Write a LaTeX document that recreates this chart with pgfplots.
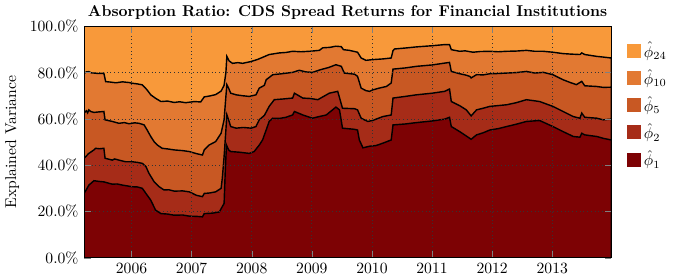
\documentclass[border=0pt]{standalone}
\usepackage{pgfplots}
\pgfplotsset{compat=1.18}
\definecolor{cA}{RGB}{125,2,4}
\definecolor{cB}{RGB}{166,44,24}
\definecolor{cC}{RGB}{200,88,35}
\definecolor{cD}{RGB}{226,121,50}
\definecolor{cE}{RGB}{248,153,58}
\begin{document}
\begin{tikzpicture}
\begin{axis}[
  scale only axis, width=337pt, height=148pt,
  xmin=2005.21, xmax=2013.98, ymin=0, ymax=100,
  xtick={2006,...,2013},
  x tick label style={/pgf/number format/1000 sep={}},
  ytick={0,20,...,100},
  yticklabel={\pgfmathprintnumber[fixed,fixed zerofill,precision=1]{\tick}\%},
  ylabel={Explained Variance},
  title={\textbf{Absorption Ratio: CDS Spread Returns for Financial Institutions}},
  title style={yshift=-5pt},
  grid=major, grid style={black!80, dotted, line width=0.5pt},
  axis on top, tick align=inside,
  legend style={draw=none, fill=none, at={(1.02,0.96)}, anchor=north west, row sep=2.3pt},
  legend cell align=left,
  legend image code/.code={\fill[#1, draw=none] (0pt,-4.5pt) rectangle (9pt,4.5pt);},
]
\addplot[fill=cE, draw=none] coordinates {(2005.21,100) (2013.98,100)} \closedcycle;
\addlegendentry{$\hat{\phi}_{24}$}
\addplot[fill=cD, draw=black, line width=0.9pt] coordinates {
(2005.21,79.7) (2005.25,80.3) (2005.29,80.4) (2005.33,79.9) (2005.375,79.8) (2005.45,79.6) (2005.54,79.7) (2005.57,76.1) (2005.65,75.9) (2005.74,75.6) (2005.85,76.0) (2005.96,75.7) (2006.01,75.4) (2006.10,75.1) (2006.18,74.7) (2006.26,72.5) (2006.32,70.4) (2006.40,68.9) (2006.49,67.5) (2006.60,67.7) (2006.71,67.1) (2006.80,67.4) (2006.90,67.0) (2007.05,67.5) (2007.15,67.3) (2007.21,69.5) (2007.30,69.9) (2007.40,70.5) (2007.49,72.0) (2007.54,74.5) (2007.57,80.0) (2007.586,87.0) (2007.625,85.0) (2007.68,84.0) (2007.77,84.3) (2007.85,84.0) (2007.99,84.8) (2008.10,85.7) (2008.20,86.8) (2008.29,87.8) (2008.46,88.5) (2008.57,88.7) (2008.68,89.2) (2008.82,89.0) (2008.96,89.2) (2009.125,89.6) (2009.18,90.7) (2009.30,90.9) (2009.40,91.4) (2009.49,91.2) (2009.525,89.9) (2009.625,89.6) (2009.76,88.8) (2009.82,86.3) (2009.90,85.3) (2010.01,85.6) (2010.18,85.9) (2010.32,86.3) (2010.35,89.5) (2010.375,90.2) (2010.55,90.6) (2010.74,91.1) (2011.00,91.6) (2011.21,92.1) (2011.29,92.1) (2011.32,89.9) (2011.46,89.2) (2011.55,89.4) (2011.68,88.8) (2011.80,89.1) (2011.96,89.2) (2012.10,89.0) (2012.24,89.2) (2012.40,89.3) (2012.57,89.6) (2012.71,89.2) (2012.85,89.2) (2013.01,88.8) (2013.18,88.2) (2013.30,88.0) (2013.46,87.8) (2013.49,88.5) (2013.54,87.8) (2013.64,87.4) (2013.74,87.0) (2013.85,86.7) (2013.98,86.3)
} \closedcycle;
\addlegendentry{$\hat{\phi}_{10}$}
\addplot[fill=cC, draw=black, line width=0.9pt] coordinates {
(2005.21,62.5) (2005.25,63.5) (2005.27,62.6) (2005.29,63.9) (2005.32,63.2) (2005.375,62.8) (2005.45,63.0) (2005.54,63.2) (2005.56,59.6) (2005.68,58.9) (2005.79,58.1) (2005.88,58.4) (2005.96,57.9) (2006.05,58.3) (2006.125,58.1) (2006.21,57.4) (2006.26,55.2) (2006.32,52.4) (2006.375,50.2) (2006.43,48.7) (2006.51,47.3) (2006.61,47.0) (2006.71,46.6) (2006.85,46.3) (2006.96,45.9) (2007.08,45.0) (2007.18,44.4) (2007.21,46.6) (2007.29,48.7) (2007.40,50.2) (2007.49,53.8) (2007.54,59.6) (2007.57,69.7) (2007.586,74.8) (2007.615,73.3) (2007.65,71.1) (2007.74,70.4) (2007.85,70.0) (2007.96,69.7) (2008.07,70.4) (2008.125,73.3) (2008.21,74.5) (2008.24,76.9) (2008.35,79.1) (2008.50,79.5) (2008.68,80.1) (2008.79,81.0) (2008.90,80.3) (2009.01,80.1) (2009.15,81.3) (2009.28,82.2) (2009.40,83.4) (2009.49,82.7) (2009.54,79.8) (2009.71,79.3) (2009.76,78.4) (2009.82,73.3) (2009.90,72.2) (2009.96,71.9) (2010.01,72.5) (2010.12,73.3) (2010.24,74.0) (2010.32,75.5) (2010.35,81.5) (2010.55,82.0) (2010.74,82.7) (2011.00,83.3) (2011.21,84.1) (2011.29,84.4) (2011.32,80.5) (2011.46,79.5) (2011.55,79.0) (2011.625,78.4) (2011.65,77.7) (2011.74,79.1) (2011.85,79.0) (2011.96,79.5) (2012.10,79.6) (2012.24,79.8) (2012.40,80.0) (2012.57,80.5) (2012.71,79.8) (2012.85,80.1) (2013.01,79.1) (2013.18,76.9) (2013.30,75.7) (2013.40,74.8) (2013.49,76.2) (2013.54,74.3) (2013.74,74.0) (2013.85,73.6) (2013.98,73.7)
} \closedcycle;
\addlegendentry{$\hat{\phi}_{5}$}
\addplot[fill=cB, draw=black, line width=0.9pt] coordinates {
(2005.21,43.0) (2005.29,45.1) (2005.375,46.6) (2005.40,47.3) (2005.47,47.1) (2005.54,47.3) (2005.56,43.0) (2005.68,42.2) (2005.72,42.7) (2005.79,42.2) (2005.90,41.5) (2006.01,41.5) (2006.10,41.2) (2006.18,40.8) (2006.24,39.4) (2006.29,36.5) (2006.375,32.9) (2006.46,30.7) (2006.54,29.3) (2006.62,29.4) (2006.71,28.8) (2006.85,28.9) (2006.96,28.5) (2007.08,27.0) (2007.18,26.4) (2007.21,27.8) (2007.30,28.0) (2007.40,28.5) (2007.49,30.0) (2007.51,34.3) (2007.54,43.7) (2007.57,55.2) (2007.586,61.8) (2007.615,59.6) (2007.65,56.7) (2007.74,56.0) (2007.86,56.3) (2007.99,56.0) (2008.07,56.7) (2008.125,59.6) (2008.21,61.5) (2008.29,65.4) (2008.375,68.3) (2008.52,68.6) (2008.68,69.0) (2008.71,71.1) (2008.85,69.0) (2008.98,68.8) (2009.10,68.3) (2009.29,71.1) (2009.43,71.9) (2009.51,64.6) (2009.71,64.4) (2009.76,63.9) (2009.82,60.3) (2009.93,58.9) (2010.01,59.3) (2010.18,61.0) (2010.32,61.7) (2010.35,69.0) (2010.55,69.7) (2010.74,70.4) (2011.00,71.1) (2011.21,71.9) (2011.29,72.9) (2011.32,67.5) (2011.46,65.7) (2011.57,63.9) (2011.65,61.3) (2011.74,63.9) (2011.85,64.6) (2011.96,65.4) (2012.24,66.1) (2012.40,67.0) (2012.57,68.3) (2012.79,67.5) (2013.01,65.4) (2013.18,63.2) (2013.35,61.0) (2013.46,60.3) (2013.49,62.5) (2013.54,60.7) (2013.74,60.3) (2013.85,59.6) (2013.98,59.9)
} \closedcycle;
\addlegendentry{$\hat{\phi}_{2}$}
\addplot[fill=cA, draw=black, line width=0.9pt] coordinates {
(2005.21,27.8) (2005.25,29.5) (2005.29,31.4) (2005.375,33.3) (2005.46,33.0) (2005.54,32.8) (2005.68,31.8) (2005.76,31.9) (2005.85,31.4) (2006.01,30.7) (2006.10,30.6) (2006.18,30.0) (2006.24,27.8) (2006.32,24.9) (2006.40,20.6) (2006.49,19.1) (2006.60,18.9) (2006.71,18.4) (2006.85,18.5) (2006.96,18.0) (2007.08,17.9) (2007.18,17.7) (2007.21,19.1) (2007.35,19.3) (2007.46,19.8) (2007.54,23.5) (2007.56,37.9) (2007.58,48.7) (2007.615,46.6) (2007.65,45.9) (2007.80,45.6) (2007.96,45.1) (2008.04,45.9) (2008.125,48.7) (2008.18,50.9) (2008.24,55.2) (2008.29,58.9) (2008.35,60.3) (2008.46,60.2) (2008.57,60.7) (2008.68,61.7) (2008.71,63.2) (2008.85,61.7) (2009.01,60.3) (2009.12,61.0) (2009.24,61.7) (2009.40,65.1) (2009.46,63.9) (2009.51,56.0) (2009.71,55.5) (2009.76,55.2) (2009.79,50.9) (2009.85,47.5) (2009.96,48.2) (2010.07,48.5) (2010.18,49.5) (2010.32,50.9) (2010.35,57.4) (2010.55,57.8) (2010.74,58.4) (2011.00,59.1) (2011.21,59.9) (2011.29,60.7) (2011.32,56.7) (2011.46,54.5) (2011.57,52.6) (2011.65,51.2) (2011.74,53.1) (2011.85,54.0) (2011.96,55.2) (2012.10,55.8) (2012.24,56.7) (2012.40,57.7) (2012.57,58.9) (2012.79,59.3) (2013.01,56.7) (2013.18,54.5) (2013.35,52.4) (2013.46,52.1) (2013.49,53.8) (2013.54,53.1) (2013.74,52.4) (2013.85,51.6) (2013.98,50.9)
} \closedcycle;
\addlegendentry{$\hat{\phi}_{1}$}
\end{axis}
\path (current bounding box.east) -- ++(10pt,0);
\end{tikzpicture}
\end{document}
